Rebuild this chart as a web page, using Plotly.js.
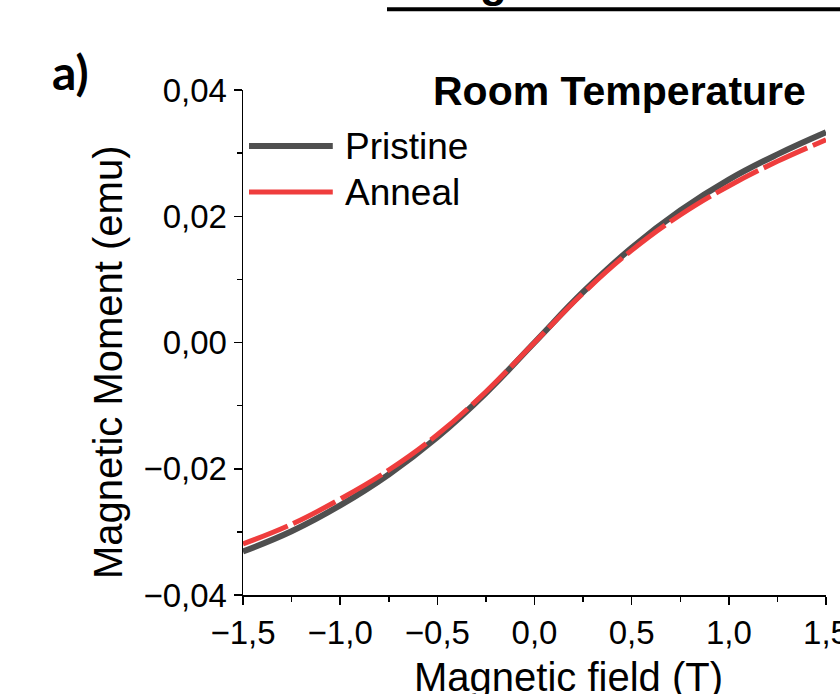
<!DOCTYPE html>
<html>
<head>
<meta charset="utf-8">
<script src="https://cdn.plot.ly/plotly-3.0.1.min.js"></script>
<style>html,body{margin:0;padding:0;background:#fff;}#chart{width:840px;height:694px;}</style>
</head>
<body>
<div id="chart"></div>
<script>
// Data
const field = [-1.5, -1.25, -1.0, -0.75, -0.5, -0.25, 0, 0.25, 0.5, 0.75, 1.0, 1.25, 1.5];
const pristine = [-0.0331, -0.0299, -0.0258, -0.0209, -0.0150, -0.0080, 0.0000, 0.0080, 0.0150, 0.0209, 0.0258, 0.0298, 0.0333];
const anneal = [-0.0319, -0.0288, -0.0248, -0.0202, -0.0146, -0.0078, 0.0000, 0.0078, 0.0146, 0.0202, 0.0248, 0.0287, 0.0321];
const seriesNames = ["Pristine", "Anneal"];
const xTickVals = [-1.5, -1.0, -0.5, 0, 0.5, 1.0, 1.5];
const yTickVals = [-0.04, -0.02, 0, 0.02, 0.04];
const xTitle = "Magnetic field (T)";
const yTitle = "Magnetic Moment (emu)";
const panelTitle = "Room Temperature";
const panelLabel = "a)";

const FONT = "Liberation Sans, Arial, sans-serif";
const BLACK = "#4f4f4f";
const RED = "#ef3d3d";

const traces = [
  {x: field, y: pristine, name: seriesNames[0], mode: "lines", type: "scatter",
   line: {color: BLACK, width: 6, shape: "spline", smoothing: 1.2}},
  {x: field, y: anneal, name: seriesNames[1], mode: "lines", type: "scatter",
   line: {color: RED, width: 5, shape: "spline", smoothing: 1.2, dash: "48px,6px"}}
];

const axisCommon = {
  showgrid: false, zeroline: false, showline: true, linecolor: "#000", linewidth: 1.5,
  ticks: "outside", ticklen: 8, tickwidth: 1.5, tickcolor: "#000",
  tickfont: {size: 33, family: FONT, color: "#000"}
};

const layout = {
  width: 840, height: 694,
  margin: {l: 243, r: 14, t: 90, b: 99},
  paper_bgcolor: "#fff", plot_bgcolor: "#fff",
  separators: ",.",
  showlegend: false,
  font: {family: FONT, color: "#000", size: 33},
  xaxis: Object.assign({}, axisCommon, {
    range: [-1.5, 1.5], tickvals: xTickVals, tickformat: ".1f",
    ticklabeloverflow: "allow",
    minor: {dtick: 0.25, ticks: "outside", ticklen: 5, tickwidth: 1.5, tickcolor: "#000", showgrid: false}
  }),
  yaxis: Object.assign({}, axisCommon, {
    range: [-0.04, 0.04], tickvals: yTickVals, tickformat: ".2f",
    ticklabeloverflow: "allow",
    minor: {dtick: 0.01, ticks: "outside", ticklen: 5, tickwidth: 1.5, tickcolor: "#000", showgrid: false}
  }),
  shapes: [
    {type: "line", xref: "paper", yref: "paper", x0: 0.0103, x1: 0.154, y0: 0.889, y1: 0.889,
     line: {color: BLACK, width: 6}},
    {type: "line", xref: "paper", yref: "paper", x0: 0.0103, x1: 0.154, y0: 0.798, y1: 0.798,
     line: {color: RED, width: 5}},
    {type: "line", xref: "paper", yref: "paper", x0: 0.247, x1: 1.05, y0: 1.160, y1: 1.160,
     line: {color: "#000", width: 4}}
  ],
  annotations: [
    {xref: "paper", yref: "paper", x: 0.1715, y: 0.889, xanchor: "left", yanchor: "middle",
     text: seriesNames[0], showarrow: false, font: {size: 37, family: FONT, color: "#000"}},
    {xref: "paper", yref: "paper", x: 0.1715, y: 0.798, xanchor: "left", yanchor: "middle",
     text: seriesNames[1], showarrow: false, font: {size: 37, family: FONT, color: "#000"}},
    {xref: "paper", yref: "paper", x: 0.645, y: 0.998, xanchor: "center", yanchor: "middle",
     text: "<b>" + panelTitle + "</b>", showarrow: false, font: {size: 41, family: FONT, color: "#000"}},
    {xref: "paper", yref: "paper", x: -0.2967, y: 1.037, xanchor: "center", yanchor: "middle",
     text: "<b>" + panelLabel + "</b>", showarrow: false, font: {size: 48, family: "Lato, Open Sans, sans-serif", color: "#000"}},
    {xref: "paper", yref: "paper", x: 0.558, y: -0.162, xanchor: "center", yanchor: "middle",
     text: xTitle, showarrow: false, font: {size: 40, family: FONT, color: "#000"}},
    {xref: "paper", yref: "paper", x: -0.2316, y: 0.4614, xanchor: "center", yanchor: "middle",
     text: yTitle, textangle: -90, showarrow: false, font: {size: 40, family: FONT, color: "#000"}},
    {xref: "paper", yref: "paper", x: 0.429, y: 1.162, xanchor: "center", yanchor: "bottom",
     text: "<b>g</b>", showarrow: false, font: {size: 44, family: FONT, color: "#000"}}
  ]
};

Plotly.newPlot("chart", traces, layout, {staticPlot: true, displayModeBar: false});
</script>
</body>
</html>
